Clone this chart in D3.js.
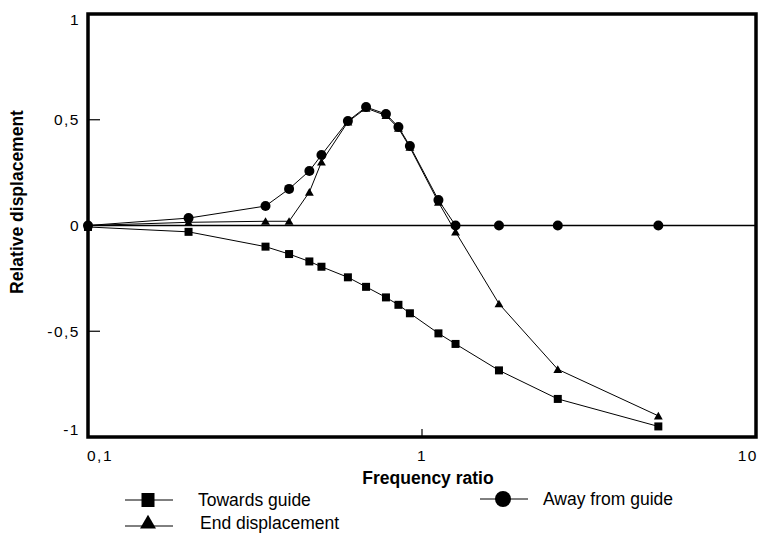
<!DOCTYPE html>
<html>
<head>
<meta charset="utf-8">
<title>Relative displacement vs frequency ratio</title>
<script src="https://cdn.jsdelivr.net/npm/d3@7"></script>
<style>
  body { margin: 0; background: #fff; }
  svg text { font-family: "Liberation Sans", Arial, Helvetica, sans-serif; fill: #000; }
</style>
</head>
<body>
<svg id="chart" width="760" height="533"></svg>
<script>
// frequency ratio (x)
var freq = [0.1, 0.2, 0.34, 0.4, 0.46, 0.5, 0.6, 0.68, 0.78, 0.85, 0.92, 1.12, 1.26, 1.7, 2.55, 5.1];
// relative displacement per series
var towardsGuide = [-0.007, -0.03, -0.10, -0.135, -0.17, -0.195, -0.245, -0.29, -0.34, -0.375, -0.415, -0.51, -0.56, -0.685, -0.82, -0.95];
var awayFromGuide = [0, 0.035, 0.092, 0.173, 0.258, 0.333, 0.494, 0.56, 0.527, 0.466, 0.376, 0.12, 0, 0, 0, 0];
var endDisplacement = [0, 0.015, 0.02, 0.02, 0.158, 0.30, 0.49, 0.555, 0.52, 0.46, 0.37, 0.11, -0.03, -0.37, -0.68, -0.9];

var xTicks = [0.1, 1, 10];
var xTickLabels = ["0,1", "1", "10"];
var yTicks = [-1, -0.5, 0, 0.5, 1];
var yTickLabels = ["-1", "-0,5", "0", "0,5", "1"];

var svg = d3.select("#chart");

var x = d3.scaleLog().domain([0.1, 10]).range([88, 756]);
var y = d3.scaleLinear().domain([-1, 1]).range([437, 14]);

// zero reference line
svg.append("line")
  .attr("x1", x(0.1)).attr("x2", x(10))
  .attr("y1", y(0)).attr("y2", y(0))
  .attr("stroke", "#000").attr("stroke-width", 1.6);

// inward ticks
svg.selectAll(".ytick")
  .data([0.5, -0.5])
  .enter().append("line")
  .attr("x1", x(0.1)).attr("x2", x(0.1) + 12)
  .attr("y1", function(d) { return y(d); })
  .attr("y2", function(d) { return y(d); })
  .attr("stroke", "#000").attr("stroke-width", 1.2);
svg.append("line")
  .attr("x1", x(1)).attr("x2", x(1))
  .attr("y1", y(-1)).attr("y2", y(-1) - 8)
  .attr("stroke", "#000").attr("stroke-width", 1.2);

// tick labels
svg.selectAll(".xlab")
  .data(xTicks)
  .enter().append("text")
  .attr("x", function(d, i) { return x(d) + (i == 0 ? -1 : (i == xTicks.length - 1 ? 2 : 0)); })
  .attr("y", 461)
  .attr("font-size", 15.5)
  .attr("letter-spacing", 1.5)
  .attr("text-anchor", function(d, i) { return i == 0 ? "start" : (i == xTicks.length - 1 ? "end" : "middle"); })
  .text(function(d, i) { return xTickLabels[i]; });

svg.selectAll(".ylab")
  .data(yTicks)
  .enter().append("text")
  .attr("x", 80)
  .attr("y", function(d) {
    // end labels sit just inside the frame
    var shift = d == 1 ? 6 : (d == -1 ? -7 : 0);
    return y(d) + shift;
  })
  .attr("dy", "0.35em")
  .attr("font-size", 15.5)
  .attr("letter-spacing", 1.5)
  .attr("text-anchor", "end")
  .text(function(d, i) { return yTickLabels[i]; });

// axis titles
svg.append("text")
  .attr("x", 428).attr("y", 484)
  .attr("font-size", 17.5).attr("font-weight", "bold")
  .attr("text-anchor", "middle")
  .text("Frequency ratio");
svg.append("text")
  .attr("transform", "translate(23,202) rotate(-90)")
  .attr("font-size", 17.5).attr("font-weight", "bold")
  .attr("text-anchor", "middle")
  .text("Relative displacement");

// series lines
var line = d3.line()
  .x(function(d) { return x(d[0]); })
  .y(function(d) { return y(d[1]); });

function pairs(vals) { return freq.map(function(f, i) { return [f, vals[i]]; }); }

[endDisplacement, towardsGuide, awayFromGuide].forEach(function(vals) {
  svg.append("path")
    .datum(pairs(vals))
    .attr("d", line)
    .attr("fill", "none")
    .attr("stroke", "#000")
    .attr("stroke-width", 1);
});

// markers
var tri = d3.symbol().type(d3.symbolTriangle).size(34);
svg.selectAll(".tri")
  .data(pairs(endDisplacement))
  .enter().append("path")
  .attr("d", tri)
  .attr("transform", function(d) { return "translate(" + x(d[0]) + "," + (y(d[1]) + 1) + ")"; })
  .attr("fill", "#000");

svg.selectAll(".sq")
  .data(pairs(towardsGuide))
  .enter().append("rect")
  .attr("x", function(d) { return x(d[0]) - 4; })
  .attr("y", function(d) { return y(d[1]) - 4; })
  .attr("width", 8).attr("height", 8)
  .attr("fill", "#000");

svg.selectAll(".circ")
  .data(pairs(awayFromGuide))
  .enter().append("circle")
  .attr("cx", function(d) { return x(d[0]); })
  .attr("cy", function(d) { return y(d[1]); })
  .attr("r", 5)
  .attr("fill", "#000");

// frame
svg.append("rect")
  .attr("x", x(0.1)).attr("y", y(1))
  .attr("width", x(10) - x(0.1)).attr("height", y(-1) - y(1))
  .attr("fill", "none")
  .attr("stroke", "#000").attr("stroke-width", 3.5);

// legend
var legend = [
  { name: "Towards guide", shape: "square", lx: 125, ly: 500, tx: 198, ty: 506 },
  { name: "End displacement", shape: "triangle", lx: 125, ly: 526, tx: 200, ty: 529 },
  { name: "Away from guide", shape: "circle", lx: 480, ly: 499, tx: 543, ty: 505 }
];
legend.forEach(function(item) {
  var g = svg.append("g");
  var w = 48;
  var cx = item.lx + 23;
  g.append("line")
    .attr("x1", item.lx).attr("x2", item.lx + w)
    .attr("y1", item.ly).attr("y2", item.ly)
    .attr("stroke", "#000").attr("stroke-width", 1);
  if (item.shape == "square") {
    g.append("rect").attr("x", cx - 6.5).attr("y", item.ly - 7).attr("width", 13).attr("height", 14).attr("fill", "#000");
  } else if (item.shape == "triangle") {
    g.append("path").attr("d", d3.symbol().type(d3.symbolTriangle).size(110))
      .attr("transform", "translate(" + cx + "," + (item.ly - 2) + ")").attr("fill", "#000");
  } else {
    g.append("circle").attr("cx", cx).attr("cy", item.ly).attr("r", 8).attr("fill", "#000");
  }
  g.append("text")
    .attr("x", item.tx).attr("y", item.ty)
    .attr("font-size", 17.5)
    .text(item.name);
});
</script>
</body>
</html>
